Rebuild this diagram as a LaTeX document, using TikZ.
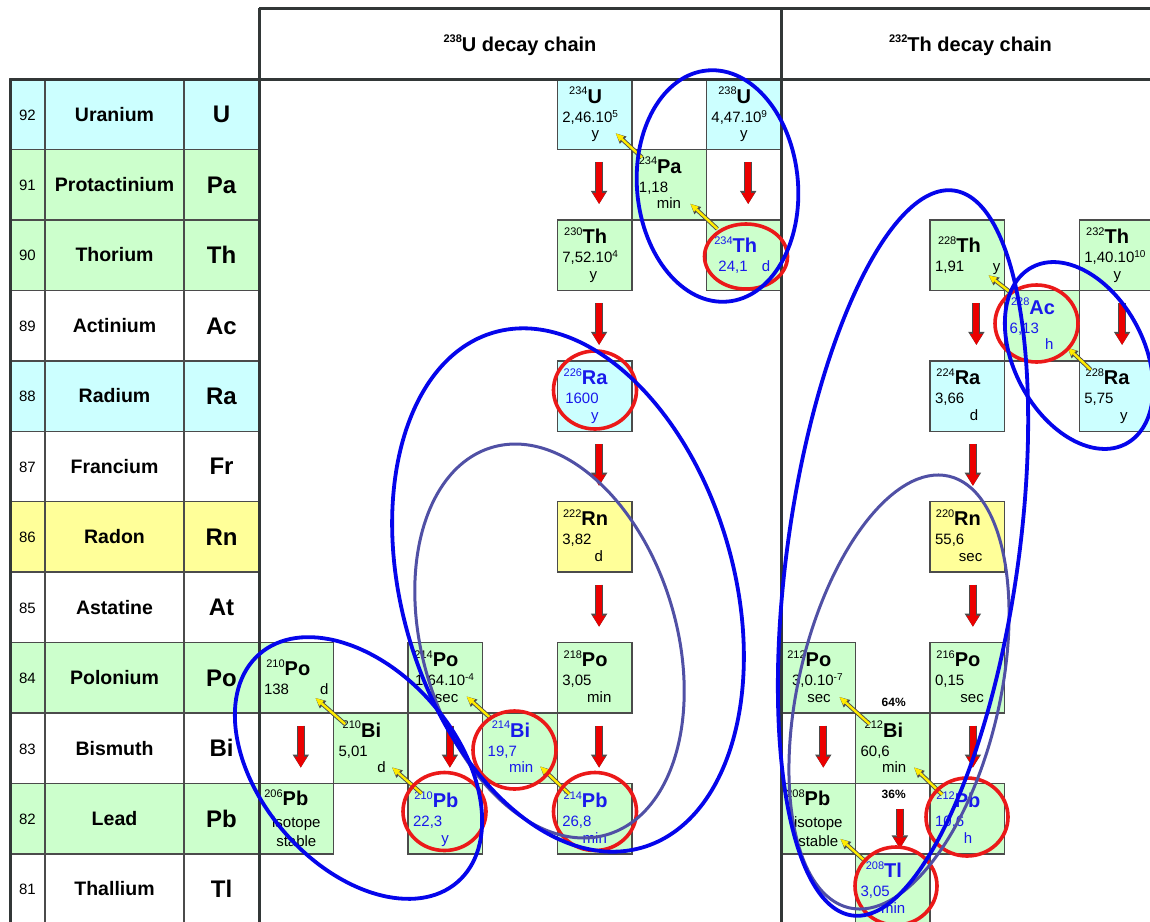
\documentclass[tikz,border=0pt]{standalone}
\usepackage{fontspec}
\setmainfont{Liberation Sans}
\usetikzlibrary{arrows.meta,calc}
\definecolor{cg}{HTML}{CCFFCC}
\definecolor{cc}{HTML}{CCFFFF}
\definecolor{cy}{HTML}{FFFF99}
\definecolor{bt}{RGB}{25,25,235}
\definecolor{ellb}{RGB}{5,5,235}
\definecolor{ellp}{RGB}{80,80,165}
\definecolor{cr}{RGB}{235,25,25}
\definecolor{arrred}{RGB}{235,0,0}
\definecolor{arry}{RGB}{255,235,0}
\definecolor{gridc}{RGB}{75,75,75}
\definecolor{framec}{RGB}{50,55,55}

\newcommand{\nmass}[1]{\raisebox{8.5pt}{\fontsize{11}{11}\selectfont #1}}
\newcommand{\nsym}[1]{{\fontsize{20}{22}\selectfont\bfseries #1}}
\newcommand{\nval}{\fontsize{15}{17}\selectfont}
\newcommand{\nexp}[1]{\raisebox{5pt}{\fontsize{10}{10}\selectfont #1}}

\tikzset{
 cellbox/.style={draw=gridc, line width=1.5pt, minimum width=74.57pt, minimum height=70.45pt, inner sep=0pt, outer sep=0pt, anchor=north west},
 ecell/.style={draw=gridc, line width=1.5pt, minimum height=70.45pt, inner sep=0pt, outer sep=0pt, anchor=north west},
 lbl/.style={inner sep=0pt, outer sep=0pt},
 alphaarr/.style={draw=arrred, line width=6pt, -{Triangle[length=11pt,width=13pt,line width=0pt]},
   preaction={draw=black!70, line width=8pt, -{Triangle[length=13pt,width=16.5pt,line width=0pt]}}},
 betaarr/.style={draw=arry, line width=2.4pt, -{Triangle[length=8pt,width=7pt,line width=0pt]},
   preaction={draw=black!70, line width=4.2pt, -{Triangle[length=10pt,width=10pt,line width=0pt]}}},
 redc/.style={draw=cr, line width=3.6pt},
 bell/.style={draw=ellb, line width=3.8pt},
 pell/.style={draw=ellp, line width=3pt},
 frameline/.style={draw=framec, line width=3pt},
 bluetext/.style={every node/.append style={text=bt}},
}

\newcommand{\nuc}[9]{%
 \node[cellbox,fill=#4] (#1) at (#2,#3) {};
 \node[lbl,anchor=base] (#1s) at ([shift={(-9,24)}]#1.north) {\nmass{#5}\nsym{#6}};
 \node[lbl,anchor=base west] (#1v) at ([shift={(5,43)}]#1.north west) {\nval #7};
 \node[lbl,anchor=base] (#1u) at ([shift={(#9)}]#1.north west) {\nval #8};}
\newcommand{\nucII}[9]{%
 \node[cellbox,fill=#4] (#1) at (#2,#3) {};
 \node[lbl,anchor=base] (#1s) at ([shift={(-8,33)}]#1.north) {\nmass{#5}\nsym{#6}};
 \node[lbl,anchor=base west] (#1v) at ([shift={(5,52)}]#1.north west) {\nval #7};
 \node[lbl,anchor=base] (#1u) at ([shift={(#9)}]#1.north west) {\nval #8};}
\newcommand{\nucS}[5]{%
 \node[cellbox,fill=cg] (#1) at (#2,#3) {};
 \node[lbl,anchor=base] (#1s) at ([shift={(-10,22)}]#1.north) {\nmass{#4}\nsym{#5}};
 \node[lbl,anchor=base] (#1v) at ([shift={(0,44)}]#1.north) {\nval isotope};
 \node[lbl,anchor=base] (#1u) at ([shift={(0,62.5)}]#1.north) {\nval stable};}
\newcommand{\elrow}[5]{%
 \node[ecell,fill=#3,minimum width=35pt] (z#1) at (10,#2) {};
 \node[ecell,fill=#3,minimum width=139pt] (n#1) at (45,#2) {};
 \node[ecell,fill=#3,minimum width=75pt] (s#1) at (184,#2) {};
 \node[lbl,anchor=base,font=\fontsize{15}{15}\selectfont] (zt#1) at ([shift={(0,41)}]z#1.north) {#1};
 \node[lbl,anchor=base,font=\fontsize{19.5}{20}\selectfont\bfseries] (nt#1) at ([shift={(0,42)}]n#1.north) {#4};
 \node[lbl,anchor=base,font=\fontsize{24}{24}\selectfont\bfseries] (st#1) at ([shift={(0,43.7)}]s#1.north) {#5};}

\begin{document}
\begin{tikzpicture}[x=1pt,y=-1pt]
\useasboundingbox (0,0) rectangle (1150,921);
\clip (0,0) rectangle (1150,921);
\fill[white] (0,0) rectangle (1150,921);

% element table
\elrow{92}{79}{cc}{Uranium}{U}
\elrow{91}{149.45}{cg}{Protactinium}{Pa}
\elrow{90}{219.9}{cg}{Thorium}{Th}
\elrow{89}{290.35}{white}{Actinium}{Ac}
\elrow{88}{360.8}{cc}{Radium}{Ra}
\elrow{87}{431.25}{white}{Francium}{Fr}
\elrow{86}{501.7}{cy}{Radon}{Rn}
\elrow{85}{572.15}{white}{Astatine}{At}
\elrow{84}{642.6}{cg}{Polonium}{Po}
\elrow{83}{713.05}{white}{Bismuth}{Bi}
\elrow{82}{783.5}{cg}{Lead}{Pb}
\elrow{81}{853.95}{white}{Thallium}{Tl}

% U chain cells
\nuc{u234}{557.3}{79}{cc}{234}{U}{2,46.10\nexp{5}}{y}{38,59.5}
\nuc{u238}{706.4}{79}{cc}{238}{U}{4,47.10\nexp{9}}{y}{37.5,59.5}
\nuc{pa234}{631.9}{149.45}{cg}{234}{Pa}{\hspace{2pt}1,18}{min}{37,59.5}
\nuc{th230}{557.3}{219.9}{cg}{230}{Th}{7,52.10\nexp{4}}{y}{36,59.5}
\nuc{rn222}{557.3}{501.7}{cy}{222}{Rn}{3,82}{d}{41.5,59.5}
\nuc{po218}{557.3}{642.6}{cg}{218}{Po}{3,05}{min}{42,59.5}
\nuc{po214}{408.1}{642.6}{cg}{214}{Po}{\hspace{2pt}1,64.10\nexp{-4}}{sec}{38.5,59.5}
\nuc{bi210}{333.6}{713.05}{cg}{210}{Bi}{5,01}{d}{48,59.5}
\nucII{po210}{259}{642.6}{cg}{210}{Po}{138}{d}{65.3,52}
\nucS{pb206}{259}{783.5}{206}{Pb}
\begin{scope}[bluetext]
\nucII{th234}{706.4}{219.9}{cg}{234}{Th}{\hspace{7pt}24,1}{d}{59.6,52}
\nuc{ra226}{557.3}{360.8}{cc}{226}{Ra}{\hspace{3pt}1600}{y}{37.5,59.5}
\nuc{bi214}{482.7}{713.05}{cg}{214}{Bi}{19,7}{min}{38.5,59.5}
\nuc{pb214}{557.3}{783.5}{cg}{214}{Pb}{26,8}{min}{37.5,59.5}
\nuc{pb210}{408.1}{783.5}{cg}{210}{Pb}{22,3}{y}{37,59.5}
\end{scope}

% Th chain cells
\nuc{th232}{1079.3}{219.9}{cg}{232}{Th}{1,40.10\nexp{10}}{y}{38,59.5}
\nuc{ra228}{1079.3}{360.8}{cc}{228}{Ra}{5,75}{y}{44.5,59.5}
\nucII{th228}{930.1}{219.9}{cg}{228}{Th}{1,91}{y}{66.6,52}
\nuc{ra224}{930.1}{360.8}{cc}{224}{Ra}{3,66}{d}{44,59.5}
\nuc{rn220}{930.1}{501.7}{cy}{220}{Rn}{55,6}{sec}{40.5,59.5}
\nuc{po216}{930.1}{642.6}{cg}{216}{Po}{0,15}{sec}{42,59.5}
\nuc{bi212}{855.6}{713.05}{cg}{212}{Bi}{60,6}{min}{38.5,59.5}
\nuc{po212}{781}{642.6}{cg}{212}{Po}{\hspace{6pt}3,0.10\nexp{-7}}{sec}{38,59.5}
\nucS{pb208}{781}{783.5}{208}{Pb}
\begin{scope}[bluetext]
\nuc{ac228}{1004.7}{290.35}{cg}{228}{Ac}{6,13}{h}{44.5,59.5}
\nuc{pb212}{930.1}{783.5}{cg}{212}{Pb}{10,6}{h}{38,59.5}
\nuc{tl208}{855.6}{853.95}{cg}{208}{Tl}{3,05}{min}{37.5,59.5}
\end{scope}

% branching labels
\node[lbl,anchor=base,font=\fontsize{12}{12}\selectfont\bfseries] (p64) at (893.7,706) {64\%};
\node[lbl,anchor=base,font=\fontsize{12}{12}\selectfont\bfseries] (p36) at (893.7,798) {36\%};

% frame
\draw[frameline] (10,79) -- (1160,79);
\draw[frameline] (10,79) -- (10,930);
\draw[frameline] (259,8) -- (1160,8);
\draw[frameline] (259,8) -- (259,930);
\draw[frameline] (781,8) -- (781,930);

% headers
\node[lbl,anchor=base,font=\fontsize{20}{22}\selectfont\bfseries] (hU) at (520,51) {\raisebox{8.5pt}{\fontsize{11}{11}\selectfont 238}U decay chain};
\node[lbl,anchor=base,font=\fontsize{20}{22}\selectfont\bfseries] (hTh) at (970.5,51) {\raisebox{8.5pt}{\fontsize{11}{11}\selectfont 232}Th decay chain};

% alpha decays
\draw[alphaarr] ([shift={(4.5,12.5)}]u234.south) -- ([shift={(4.5,-16)}]th230.north);
\draw[alphaarr] ([shift={(4.5,12.5)}]u238.south) -- ([shift={(4.5,-16)}]th234.north);
\draw[alphaarr] ([shift={(4.5,12.5)}]th230.south) -- ([shift={(4.5,-16)}]ra226.north);
\draw[alphaarr] ([shift={(4.5,12.5)}]ra226.south) -- ([shift={(4.5,-16)}]rn222.north);
\draw[alphaarr] ([shift={(4.5,12.5)}]rn222.south) -- ([shift={(4.5,-16)}]po218.north);
\draw[alphaarr] ([shift={(4.5,12.5)}]po218.south) -- ([shift={(4.5,-16)}]pb214.north);
\draw[alphaarr] ([shift={(4.5,12.5)}]po214.south) -- ([shift={(4.5,-16)}]pb210.north);
\draw[alphaarr] ([shift={(4.5,12.5)}]po210.south) -- ([shift={(4.5,-16)}]pb206.north);
\draw[alphaarr] ([shift={(5.5,12.5)}]th232.south) -- ([shift={(5.5,-16)}]ra228.north);
\draw[alphaarr] ([shift={(9,12.5)}]th228.south) -- ([shift={(9,-16)}]ra224.north);
\draw[alphaarr] ([shift={(5.5,12.5)}]ra224.south) -- ([shift={(5.5,-16)}]rn220.north);
\draw[alphaarr] ([shift={(5.5,12.5)}]rn220.south) -- ([shift={(5.5,-16)}]po216.north);
\draw[alphaarr] ([shift={(5.5,12.5)}]po216.south) -- ([shift={(5.5,-16)}]pb212.north);
\draw[alphaarr] ([shift={(5,12.5)}]po212.south) -- ([shift={(5,-16)}]pb208.north);
\draw[alphaarr] ([shift={(7,25)}]bi212.south) -- ([shift={(7,-5.5)}]tl208.north);

% beta decays
\draw[betaarr] ([shift={(11,9)}]th234.north west) -- ([shift={(-16,-16)}]pa234.south east);
\draw[betaarr] ([shift={(10,8)}]pa234.north west) -- ([shift={(-16,-16)}]u234.south east);
\draw[betaarr] ([shift={(12,10.5)}]pb214.north west) -- ([shift={(-17,-17)}]bi214.south east);
\draw[betaarr] ([shift={(9,6)}]bi214.north west) -- ([shift={(-16,-16.5)}]po214.south east);
\draw[betaarr] ([shift={(13.5,10)}]pb210.north west) -- ([shift={(-16,-16)}]bi210.south east);
\draw[betaarr] ([shift={(11.5,11)}]bi210.north west) -- ([shift={(-18,-15)}]po210.south east);
\draw[betaarr] ([shift={(11.5,9)}]ra228.north west) -- ([shift={(-11.5,-13)}]ac228.south east);
\draw[betaarr] ([shift={(7,3)}]ac228.north west) -- ([shift={(-16,-15)}]th228.south east);
\draw[betaarr] ([shift={(12,11)}]pb212.north west) -- ([shift={(-16,-16)}]bi212.south east);
\draw[betaarr] ([shift={(14,11)}]bi212.north west) -- ([shift={(-16,-16)}]po212.south east);
\draw[betaarr] ([shift={(10.5,8)}]tl208.north west) -- ([shift={(-15,-15)}]pb208.south east);

% red circles
\draw[redc] (746,256.5) ellipse [x radius=41.5, y radius=32.5];
\draw[redc] (595,390) ellipse [x radius=41.5, y radius=39];
\draw[redc] (514.5,750) ellipse [x radius=41.5, y radius=39];
\draw[redc] (444.5,811.5) ellipse [x radius=41.5, y radius=39];
\draw[redc] (595,811.5) ellipse [x radius=41.5, y radius=39];
\draw[redc] (1036.5,323.5) ellipse [x radius=41.5, y radius=38.5];
\draw[redc] (967,817) ellipse [x radius=41, y radius=39];
\draw[redc] (896,886) ellipse [x radius=41, y radius=39];

% grouping ellipses
\draw[pell, rotate around={16.6:(549.5,641)}] (549.5,641) ellipse [x radius=127, y radius=202];
\draw[pell, rotate around={-13:(899,692)}] (899,692) ellipse [x radius=100.7, y radius=221.5];
\draw[bell, rotate around={5:(717.5,186)}] (717.5,186) ellipse [x radius=80.5, y radius=116];
\draw[bell, rotate around={28:(1079,355.5)}] (1079,355.5) ellipse [x radius=65, y radius=100];
\draw[bell, rotate around={16:(568,590)}] (568,590) ellipse [x radius=166, y radius=268];
\draw[bell, rotate around={-49:(358.5,768)}] (358.5,768) ellipse [x radius=151, y radius=98];
\draw[bell, rotate around={-8:(903,553)}] (903,553) ellipse [x radius=115.4, y radius=366];
\end{tikzpicture}
\end{document}
